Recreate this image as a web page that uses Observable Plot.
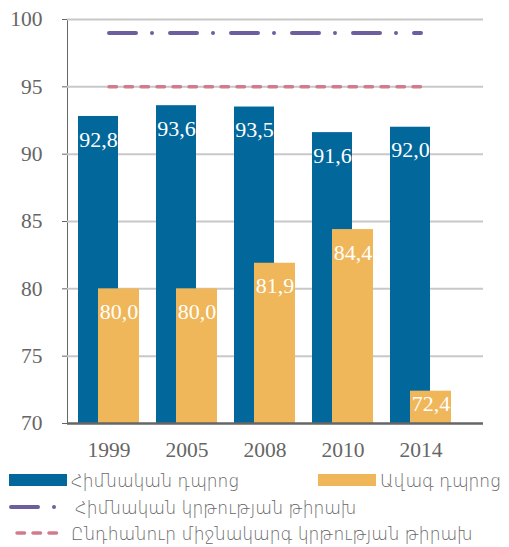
<!DOCTYPE html>
<html>
<head>
<meta charset="utf-8">
<script src="https://cdn.jsdelivr.net/npm/d3@7"></script>
<script src="https://cdn.jsdelivr.net/npm/@observablehq/plot@0.6"></script>
<style>
  body { margin: 0; background: #fff; }
  #chart svg [aria-label="y-axis"] path { stroke-width: 2.5; }
  #legend { position: relative; width: 509px; height: 82px; font-family: "DejaVu Sans", "Noto Sans", sans-serif; font-weight: 200; font-size: 18.5px; color: #666; }
  .item { position: absolute; display: flex; align-items: center; white-space: nowrap; }
  .item svg { display: block; }
  .item span { display: inline-block; transform: scaleX(0.92); transform-origin: left center; }
</style>
</head>
<body>
<div id="chart"></div>
<div id="legend"></div>
<script>
const years = ["1999", "2005", "2008", "2010", "2014"];
const basicSchool = [92.8, 93.6, 93.5, 91.6, 92.0];
const highSchool = [80.0, 80.0, 81.9, 84.4, 72.4];
const basicTarget = 99;
const secondaryTarget = 95;
const yTicks = [70, 75, 80, 85, 90, 95, 100];
const seriesNames = ["Հիմնական դպրոց", "Ավագ դպրոց"];
const targetNames = ["Հիմնական կրթության թիրախ", "Ընդհանուր միջնակարգ կրթության թիրախ"];

const colors = { basic: "#02679a", high: "#f0b65a", basicTarget: "#6d5f9d", secondaryTarget: "#d17c8c" };
const fmt = v => v.toFixed(1).replace(".", ",");

const blue = years.map((year, i) => ({ year, value: basicSchool[i] }));
const orange = years.map((year, i) => ({ year, value: highSchool[i] }));
const line99 = years.map(year => ({ year, value: basicTarget }));
const line95 = years.map(year => ({ year, value: secondaryTarget }));
const base = yTicks[0];

const chart = Plot.plot({
  width: 509,
  height: 465,
  marginLeft: 67,
  marginRight: 26,
  marginTop: 19,
  marginBottom: 42,
  style: { fontFamily: "'Liberation Serif', 'DejaVu Serif', serif", fontSize: "21.5px", color: "#666", background: "#fff" },
  x: { domain: years, range: [77, 451], paddingInner: 0.22, paddingOuter: 0, tickSize: 0, tickPadding: 18, label: null },
  y: { domain: [70, 100], ticks: yTicks, tickSize: 5, tickPadding: 20, line: true, label: null, tickFormat: d => String(d) },
  marks: [
    Plot.ruleY(yTicks.slice(1), { stroke: "#c8c8c8", strokeWidth: 2 }),
    Plot.barY(blue, { x: "year", y1: base, y2: "value", fill: colors.basic, insetRight: 21 }),
    Plot.barY(orange, { x: "year", y1: base, y2: "value", fill: colors.high, insetLeft: 20 }),
    Plot.lineY(line95, { x: "year", y: "value", stroke: colors.secondaryTarget, strokeWidth: 3.5, strokeDasharray: "7.5,8.5", strokeLinecap: "round" }),
    Plot.lineY(line99, { x: "year", y: "value", stroke: colors.basicTarget, strokeWidth: 4, strokeDasharray: "27,16,0,18", strokeLinecap: "round" }),
    Plot.text(blue, { x: "year", y: "value", text: d => fmt(d.value), fill: "white", dx: -10.5, dy: 23, fontSize: 22 }),
    Plot.text(orange, { filter: d => d.value - base > 3, x: "year", y: "value", text: d => fmt(d.value), fill: "white", dx: 10, dy: 23, fontSize: 22 }),
    Plot.text(orange, { filter: d => d.value - base <= 3, x: "year", y: () => base, text: d => fmt(d.value), fill: "white", dx: 10, dy: -20, fontSize: 22 }),
    Plot.ruleY([base], { stroke: "#666", strokeWidth: 2.5 })
  ]
});
document.getElementById("chart").appendChild(chart);

// Legend
const legend = document.getElementById("legend");
function addItem(left, top, swatchSvg, label, gap) {
  const div = document.createElement("div");
  div.className = "item";
  div.style.left = left + "px";
  div.style.top = top + "px";
  div.innerHTML = swatchSvg + `<span style="margin-left:${gap}px">${label}</span>`;
  legend.appendChild(div);
}
addItem(9, 2, `<svg width="58" height="26"><rect x="0" y="7" width="58" height="12" fill="${colors.basic}"/></svg>`, seriesNames[0], 4);
addItem(318, 2, `<svg width="58" height="26"><rect x="0" y="7" width="58" height="12" fill="${colors.high}"/></svg>`, seriesNames[1], 4);
addItem(9, 29, `<svg width="62" height="26"><line x1="2" x2="60" y1="13" y2="13" stroke="${colors.basicTarget}" stroke-width="4" stroke-dasharray="27,16,0,18" stroke-linecap="round"/></svg>`, targetNames[0], 4);
addItem(9, 55, `<svg width="58" height="26"><line x1="8" x2="56" y1="13" y2="13" stroke="${colors.secondaryTarget}" stroke-width="3.5" stroke-dasharray="7.5,8.5" stroke-linecap="round"/></svg>`, targetNames[1], 4);
</script>
</body>
</html>
